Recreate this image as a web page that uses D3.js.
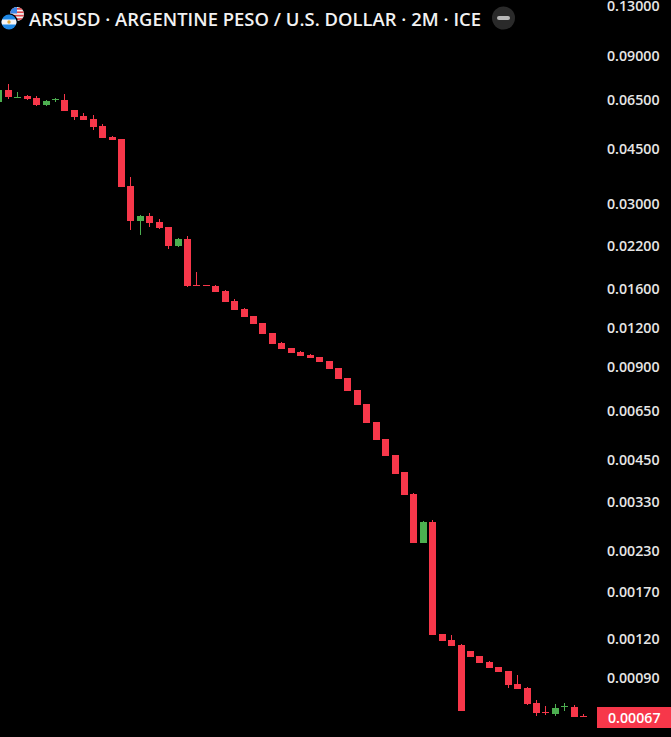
<!DOCTYPE html>
<html><head><meta charset="utf-8">
<script src="https://cdn.jsdelivr.net/npm/d3@7"></script>
<style>html,body{margin:0;background:#000;overflow:hidden}svg{display:block}</style>
</head><body><svg id="c" width="671" height="737"></svg>
<script>
const titleText = "ARSUSD · ARGENTINE PESO / U.S. DOLLAR · 2M · ICE";
const tickLabels = ["0.13000","0.09000","0.06500","0.04500","0.03000","0.02200","0.01600","0.01200","0.00900","0.00650","0.00450","0.00330","0.00230","0.00170","0.00120","0.00090"];
const lastPrice = "0.00067";
const opens = [.06386,.06979,.06578,.06676,.06578,.06246,.06467,.06481,.06019,.05757,.05631,.05346,.04928,.04856,.03428,.02646,.02746,.02626,.02531,.02199,.02316,.01647,.01647,.01635,.01576,.01463,.01379,.01309,.01243,.01154,.01072,.01033,.01003,.00981,.00966,.00938,.00891,.00827,.00757,.00682,.00597,.00527,.00468,.00412,.0035,.00244,.00285,.00124,.001189,.001146,.001096,.001056,.00101,.000973,.000945,.000858,.000833,.000746,.000698,.000687,.000723,.000724,.000677];
const highs = [.06979,.07297,.06877,.06726,.06676,.06481,.06578,.06776,.06019,.05887,.058,.05426,.04965,.04856,.03665,.02766,.02807,.02685,.02531,.02333,.02368,.01814,.01647,.01647,.01587,.01485,.01389,.01309,.01243,.01154,.0108,.01033,.0101,.00988,.00966,.00938,.00891,.00827,.00757,.00682,.00597,.00527,.00468,.00412,.00353,.00287,.00289,.00124,.001234,.001154,.001096,.001056,.001017,.000973,.000945,.000917,.000839,.000763,.00073,.000741,.000746,.000735,.000687];
const lows = [.06386,.06529,.06578,.06481,.062,.062,.06386,.05974,.05589,.05589,.0519,.04892,.0482,.03403,.02475,.02385,.02531,.02494,.0215,.02182,.01623,.01635,.01635,.01564,.01452,.01369,.013,.01234,.01146,.01064,.01026,.00996,.00974,.00959,.00931,.00884,.00821,.00751,.00677,.00593,.00523,.00464,.00406,.00348,.00244,.00244,.001234,.00118,.001137,.000703,.001048,.001003,.000966,.000938,.000833,.000827,.000735,.000677,.000682,.000677,.000703,.000672,.000672];
const closes = [.06979,.06627,.06627,.06529,.06246,.06433,.0651,.05974,.05715,.05589,.05307,.04892,.0482,.03403,.02646,.02746,.02607,.02512,.02199,.02316,.01635,.01635,.01635,.01564,.01452,.01369,.013,.01234,.01146,.01064,.01026,.00996,.00974,.00959,.00931,.00884,.00821,.00751,.00677,.00593,.00523,.00464,.00406,.00348,.00244,.00285,.001234,.00118,.001137,.000703,.001048,.001003,.000966,.000938,.000852,.000827,.000741,.000692,.000692,.000719,.000728,.000672,.000672];

const RED = "#f7374a", GREEN = "#4caf50", TXT = "#e6e6e6";
const FONT = "'Open Sans','Noto Sans',sans-serif";
const svg = d3.select("#c");
svg.append("rect").attr("width",671).attr("height",737).attr("fill","#000");

const x = d3.scaleLinear().domain([1,62]).range([8.4,583.6]);
const y = d3.scaleLog().domain([0.13,0.00067]).range([6,717.5]);
const bars = d3.range(opens.length).map(i=>({i,o:opens[i],h:highs[i],l:lows[i],c:closes[i]}));
const col = d=>d.c>=d.o?GREEN:RED;

const g = svg.append("g").attr("shape-rendering","crispEdges");
g.selectAll(".w").data(bars).join("rect")
  .attr("x",d=>Math.floor(x(d.i))).attr("width",1)
  .attr("y",d=>Math.round(y(d.h))).attr("height",d=>Math.max(1,Math.round(y(d.l))-Math.round(y(d.h))))
  .attr("fill",col);
g.selectAll(".b").data(bars).join("rect")
  .attr("x",d=>Math.floor(x(d.i))-3).attr("width",7)
  .attr("y",d=>Math.round(y(Math.max(d.o,d.c))))
  .attr("height",d=>Math.max(1,Math.round(y(Math.min(d.o,d.c)))-Math.round(y(Math.max(d.o,d.c)))))
  .attr("fill",col);

// price axis labels
svg.selectAll(".t").data(tickLabels).join("text")
  .attr("x",607).attr("y",d=>y(+d)).attr("dy","0.36em")
  .attr("font-family",FONT).attr("font-size",14.2).attr("font-weight",600).attr("fill",TXT)
  .text(d=>d);
svg.append("rect").attr("x",597).attr("y",707).attr("width",74).attr("height",21).attr("fill",RED);
svg.append("text").attr("x",608).attr("y",y(+lastPrice)).attr("dy","0.36em")
  .attr("font-family",FONT).attr("font-size",14.2).attr("font-weight",600).attr("fill","#fff").text(lastPrice);

// title
svg.append("text").attr("x",29).attr("y",25.5)
  .attr("font-family",FONT).attr("font-size",18.4).attr("font-weight",600).attr("fill","#f2f2f2")
  .attr("textLength",452).attr("lengthAdjust","spacing")
  .text(titleText);

// flags
const defs = svg.append("defs");
defs.append("clipPath").attr("id","us").append("circle").attr("cx",17).attr("cy",14).attr("r",7);
defs.append("clipPath").attr("id","ar").append("circle").attr("cx",9).attr("cy",22).attr("r",7.5);
const us = svg.append("g").attr("clip-path","url(#us)");
us.append("rect").attr("x",10).attr("y",7).attr("width",14).attr("height",14).attr("fill","#f4f4f4");
d3.range(4).forEach(k=>us.append("rect").attr("x",10).attr("y",8+k*3.4).attr("width",14).attr("height",1.7).attr("fill","#e0484d"));
us.append("rect").attr("x",10).attr("y",7).attr("width",7).attr("height",6.5).attr("fill","#3a86e8");
svg.append("circle").attr("cx",9).attr("cy",22).attr("r",8.8).attr("fill","#000");
const ar = svg.append("g").attr("clip-path","url(#ar)");
ar.append("rect").attr("x",1).attr("y",14).attr("width",16).attr("height",16).attr("fill","#1e88e5");
ar.append("rect").attr("x",1).attr("y",19.5).attr("width",16).attr("height",5).attr("fill","#f5f5f5");
ar.append("circle").attr("cx",9).attr("cy",22).attr("r",1.7).attr("fill","#e0a93a");

// status button
svg.append("circle").attr("cx",503.5).attr("cy",18).attr("r",11.5).attr("fill","#2a2a2a");
svg.append("rect").attr("x",497).attr("y",16).attr("width",13).attr("height",4).attr("rx",2).attr("fill","#b8b8b8");
</script></body></html>
